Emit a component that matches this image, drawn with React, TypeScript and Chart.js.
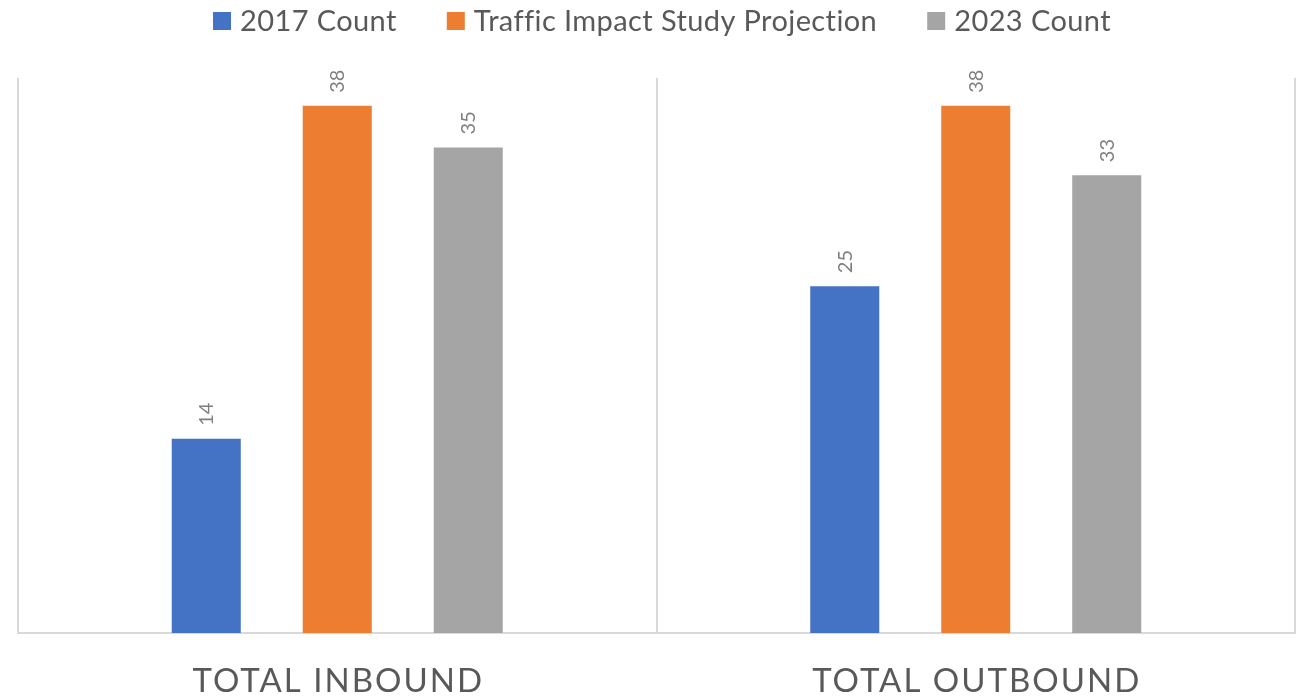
import React, { useEffect, useRef } from "react";
import { Chart, registerables } from "chart.js";

Chart.register(...registerables);

const categories = ["TOTAL INBOUND", "TOTAL OUTBOUND"];
const seriesNames = ["2017 Count", "Traffic Impact Study Projection", "2023 Count"];
const count2017 = [14, 25];
const projection = [38, 38];
const count2023 = [35, 33];
const seriesColors = ["#4472C4", "#ED7D31", "#A5A5A5"];
const yMin = 0;
const yMax = 40;

const FONT = "Lato";

const valueLabelsPlugin = {
  id: "valueLabels",
  afterDatasetsDraw(chart: any) {
    const ctx = chart.ctx;
    ctx.save();
    ctx.font = `20px ${FONT}`;
    ctx.fillStyle = "#7F7F7F";
    ctx.textAlign = "left";
    ctx.textBaseline = "alphabetic";
    chart.data.datasets.forEach((ds: any, di: number) => {
      const meta = chart.getDatasetMeta(di);
      meta.data.forEach((bar: any, i: number) => {
        const v = ds.data[i];
        ctx.save();
        ctx.translate(bar.x, bar.y - 13);
        ctx.rotate(-Math.PI / 2);
        ctx.fillText(String(v), 0, 7);
        ctx.restore();
      });
    });
    ctx.restore();
  },
};

const categoryLabelsPlugin = {
  id: "categoryLabels",
  afterDraw(chart: any) {
    const ctx = chart.ctx;
    const xs = chart.scales.x;
    ctx.save();
    ctx.font = `33px ${FONT}`;
    (ctx as any).letterSpacing = "2px";
    ctx.fillStyle = "#595959";
    ctx.textAlign = "center";
    ctx.textBaseline = "alphabetic";
    categories.forEach((c, i) => {
      ctx.fillText(c, xs.getPixelForValue(i) + 1, 692);
    });
    ctx.restore();
  },
};

const legendPlugin = {
  id: "customLegend",
  afterDraw(chart: any) {
    const ctx = chart.ctx;
    ctx.save();
    ctx.font = `29px ${FONT}`;
    (ctx as any).letterSpacing = "0.4px";
    ctx.textBaseline = "middle";
    ctx.textAlign = "left";
    const box = 18;
    const gapText = 9;
    const gapItem = 50;
    const widths = seriesNames.map((n) => box + gapText + ctx.measureText(n).width);
    const total = widths.reduce((a, b) => a + b, 0) + gapItem * (seriesNames.length - 1);
    let x = 662 - total / 2;
    const cy = 21;
    seriesNames.forEach((n, i) => {
      ctx.fillStyle = seriesColors[i];
      ctx.fillRect(x, cy - box / 2, box, box);
      ctx.fillStyle = "#595959";
      ctx.fillText(n, x + box + gapText, cy + 1);
      x += widths[i] + gapItem;
    });
    ctx.restore();
  },
};

export default function App() {
  const ref = useRef<HTMLCanvasElement>(null);
  useEffect(() => {
    if (!ref.current) return;
    const chart = new Chart(ref.current, {
      type: "bar",
      data: {
        labels: categories,
        datasets: [
          { label: seriesNames[0], data: count2017, backgroundColor: seriesColors[0] },
          { label: seriesNames[1], data: projection, backgroundColor: seriesColors[1] },
          { label: seriesNames[2], data: count2023, backgroundColor: seriesColors[2] },
        ],
      },
      options: {
        responsive: false,
        animation: false,
        devicePixelRatio: 1,
        layout: { padding: { top: 78, left: 18, right: 4, bottom: 64 } },
        datasets: {
          bar: { categoryPercentage: 0.6155, barPercentage: 0.527 },
        },
        plugins: {
          legend: { display: false },
          tooltip: { enabled: false },
        },
        scales: {
          x: {
            ticks: { display: false },
            grid: { color: "#D9D9D9", lineWidth: 2, drawTicks: false, offset: true },
            border: { color: "#D9D9D9", width: 2 },
          },
          y: {
            display: false,
            min: yMin,
            max: yMax,
          },
        },
      },
      plugins: [valueLabelsPlugin, categoryLabelsPlugin, legendPlugin],
    });
    return () => chart.destroy();
  }, []);
  return (
    <div style={{ position: "fixed", left: 0, top: 0, width: 1299, height: 697, background: "#fff" }}>
      <canvas ref={ref} width={1299} height={697} />
    </div>
  );
}
